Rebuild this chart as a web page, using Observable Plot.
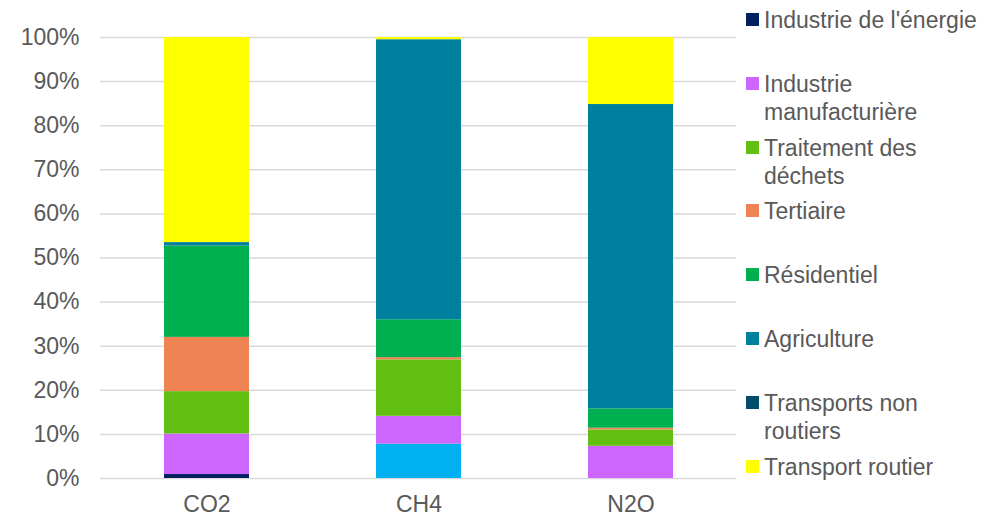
<!DOCTYPE html>
<html>
<head>
<meta charset="utf-8">
<script src="https://cdn.jsdelivr.net/npm/d3@7"></script>
<script src="https://cdn.jsdelivr.net/npm/@observablehq/plot@0.6"></script>
<style>
  html, body { margin: 0; padding: 0; background: #fff; }
  #wrap { position: relative; width: 1007px; height: 517px; font-family: "Liberation Sans", Arial, sans-serif; }
  #legend { position: absolute; left: 746px; top: 0; }
  .item { position: absolute; left: 0; width: 250px; color: #595959; font-size: 23px; line-height: 28px; }
  .sw { position: absolute; left: 0; top: 7px; width: 13px; height: 13px; }
  .lab { position: absolute; left: 18px; top: 0; width: 226px; }
</style>
</head>
<body>
<div id="wrap"><div id="legend"></div></div>
<script>
const gases = ["CO2", "CH4", "N2O"];
const sectors = ["Industrie de l'énergie", "Autres", "Industrie manufacturière", "Traitement des déchets", "Tertiaire", "Résidentiel", "Agriculture", "Transports non routiers", "Transport routier"];
const legendSectors = ["Industrie de l'énergie", "Industrie manufacturière", "Traitement des déchets", "Tertiaire", "Résidentiel", "Agriculture", "Transports non routiers", "Transport routier"];
const colors = ["#002060", "#00b0f0", "#cc66ff", "#62bf12", "#ef8354", "#00b050", "#007f9f", "#004c6a", "#ffff00"];
// percent share per sector, order = gases
const energie      = [0.9, 0.0, 0.0];
const autres       = [0.0, 7.8, 0.0];
const manuf        = [9.2, 6.3, 7.3];
const dechets      = [9.6, 12.8, 3.7];
const tertiaire    = [12.3, 0.5, 0.4];
const residentiel  = [20.7, 8.6, 4.4];
const agriculture  = [0.8, 63.5, 69.0];
const nonRoutiers  = [0.0, 0.0, 0.0];
const routier      = [46.5, 0.5, 15.2];
const yTicks = [0, 10, 20, 30, 40, 50, 60, 70, 80, 90, 100];

const seriesValues = [energie, autres, manuf, dechets, tertiaire, residentiel, agriculture, nonRoutiers, routier];
const data = [];
sectors.forEach((s, i) => gases.forEach((g, j) => data.push({gas: g, sector: s, value: seriesValues[i][j]})));

const chart = Plot.plot({
  width: 1007,
  height: 517,
  marginLeft: 100,
  marginRight: 271,
  marginTop: 37,
  marginBottom: 39,
  style: {fontFamily: "Liberation Sans, Arial, sans-serif", fontSize: "23px", color: "#595959", background: "#fff"},
  x: {domain: gases, paddingInner: 0.6, paddingOuter: 0.3, label: null, tickSize: 0, tickPadding: 17},
  y: {domain: [0, 100], ticks: yTicks, tickFormat: d => d + "%", label: null, tickSize: 0, tickPadding: 21},
  color: {domain: sectors, range: colors},
  marks: [
    Plot.ruleY(yTicks, {stroke: "#d9d9d9", strokeWidth: 1.5}),
    Plot.barY(data, Plot.stackY({order: sectors}, {x: "gas", y: "value", z: "sector", fill: "sector", inset: 0}))
  ]
});
chart.querySelectorAll("[aria-label='x-axis tick label'] text, [aria-label='y-axis tick label'] text").forEach(t => t.setAttribute("fill", "#595959"));
document.getElementById("wrap").prepend(chart);
chart.style.position = "absolute"; chart.style.left = "0"; chart.style.top = "0";

const legend = document.getElementById("legend");
legendSectors.forEach((s, i) => {
  const it = document.createElement("div");
  it.className = "item";
  it.style.top = (6 + i * 63.8) + "px";
  const sw = document.createElement("div");
  sw.className = "sw";
  sw.style.background = colors[sectors.indexOf(s)];
  const lab = document.createElement("div");
  lab.className = "lab";
  lab.textContent = s;
  it.append(sw, lab);
  legend.append(it);
});
</script>
</body>
</html>
